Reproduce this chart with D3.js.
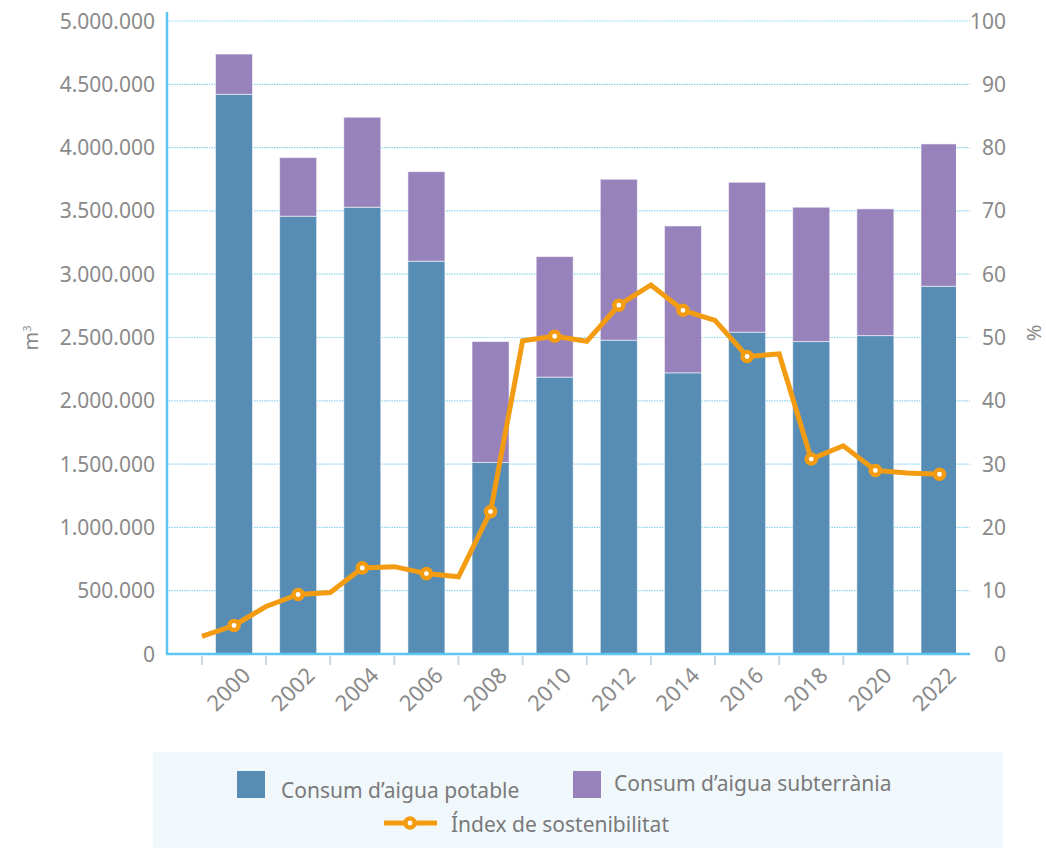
<!DOCTYPE html>
<html>
<head>
<meta charset="utf-8">
<script src="https://cdnjs.cloudflare.com/ajax/libs/d3/7.8.5/d3.min.js"></script>
<style>
  body { margin: 0; background: #fff; }
  svg text { font-family: "Noto Sans", "DejaVu Sans", sans-serif; }
</style>
</head>
<body>
<div id="chart"></div>
<script>
// data
var barYears = [2000, 2002, 2004, 2006, 2008, 2010, 2012, 2014, 2016, 2018, 2020, 2022];
var potable = [4421000, 3458000, 3529000, 3103000, 1513000, 2187000, 2479000, 2221000, 2542000, 2468000, 2515000, 2905000];
var subterrania = [318000, 463000, 711000, 707000, 955000, 952000, 1271000, 1160000, 1184000, 1061000, 1001000, 1124000];
var indexYears = [1999, 2000, 2001, 2002, 2003, 2004, 2005, 2006, 2007, 2008, 2009, 2010,
                  2011, 2012, 2013, 2014, 2015, 2016, 2017, 2018, 2019, 2020, 2021, 2022];
var indexValues = [2.8, 4.5, 7.5, 9.4, 9.7, 13.6, 13.8, 12.7, 12.2, 22.5, 49.5, 50.2,
                   49.4, 55.1, 58.3, 54.3, 52.7, 47.0, 47.4, 30.8, 32.9, 29.0, 28.6, 28.4];
var leftTicks = [0, 500000, 1000000, 1500000, 2000000, 2500000, 3000000, 3500000, 4000000, 4500000, 5000000];
var rightTicks = [0, 10, 20, 30, 40, 50, 60, 70, 80, 90, 100];
var tickYears = [1999, 2001, 2003, 2005, 2007, 2009, 2011, 2013, 2015, 2017, 2019, 2021];
var seriesNames = ["Consum d\u2019aigua potable", "Consum d\u2019aigua subterr\u00e0nia", "\u00cdndex de sostenibilitat"];

var W = 1046, H = 848;
var marg = { top: 21, left: 167, right: 90, bot: 194 };
var plotW = W - marg.left - marg.right;   // right edge at 956
var plotH = H - marg.top - marg.bot;

var BLUE = "#578db5", PURPLE = "#9782bc", ORANGE = "#f39c12", AXIS = "#5cc6f0", GREY = "#8a8a8a";

var svg = d3.select("#chart").append("svg")
  .attr("width", W)
  .attr("height", H);

var g = svg.append("g").attr("transform", "translate(" + marg.left + "," + marg.top + ")");

var xScale = d3.scaleLinear().domain([2000, 2022]).range([67, 772.5]);
var yLeft = d3.scaleLinear().domain([0, 5000000]).range([plotH, 0]);
var yRight = d3.scaleLinear().domain([0, 100]).range([plotH, 0]);
var barW = 37;

// dotted gridlines
g.append("g").selectAll("line")
  .data(leftTicks.slice(1))
  .enter().append("line")
  .attr("x1", 2).attr("x2", plotW + 14)
  .attr("y1", function(d) { return yLeft(d); })
  .attr("y2", function(d) { return yLeft(d); })
  .attr("stroke", "#8fd5f2")
  .attr("stroke-width", 1.2)
  .attr("stroke-dasharray", "1.5,1");

// bars, clipped at the right edge like the original
svg.append("defs").append("clipPath").attr("id", "plotclip")
  .append("rect").attr("x", 0).attr("y", -20).attr("width", plotW).attr("height", plotH + 20);

var stackData = barYears.map(function(yr, i) {
  return { year: yr, pot: potable[i], sub: subterrania[i] };
});

var bars = g.append("g").attr("clip-path", "url(#plotclip)");
bars.selectAll(".pot")
  .data(stackData)
  .enter().append("rect")
  .attr("class", "pot")
  .attr("x", function(d) { return xScale(d.year) - barW / 2; })
  .attr("y", function(d) { return yLeft(d.pot); })
  .attr("width", barW)
  .attr("height", function(d) { return plotH - yLeft(d.pot); })
  .attr("fill", BLUE)
  .attr("stroke", "rgba(255,255,255,0.55)")
  .attr("stroke-width", 1);

bars.selectAll(".sub")
  .data(stackData)
  .enter().append("rect")
  .attr("class", "sub")
  .attr("x", function(d) { return xScale(d.year) - barW / 2; })
  .attr("y", function(d) { return yLeft(d.pot + d.sub); })
  .attr("width", barW)
  .attr("height", function(d) { return yLeft(d.pot) - yLeft(d.pot + d.sub); })
  .attr("fill", PURPLE)
  .attr("stroke", "rgba(255,255,255,0.55)")
  .attr("stroke-width", 1);

// axes lines
g.append("line").attr("x1", 0).attr("x2", 0).attr("y1", -9).attr("y2", plotH)
  .attr("stroke", AXIS).attr("stroke-width", 2.5);
g.append("line").attr("x1", -1).attr("x2", plotW + 14).attr("y1", plotH).attr("y2", plotH)
  .attr("stroke", AXIS).attr("stroke-width", 2.5);

// x ticks between bars
g.append("g").selectAll("line")
  .data(tickYears)
  .enter().append("line")
  .attr("x1", function(d) { return xScale(d); })
  .attr("x2", function(d) { return xScale(d); })
  .attr("y1", plotH + 2).attr("y2", plotH + 11)
  .attr("stroke", "#c9d8e2").attr("stroke-width", 2);

// x labels, rotated
g.append("g").selectAll("text")
  .data(barYears)
  .enter().append("text")
  .attr("transform", function(d) { return "translate(" + (xScale(d) + 7) + "," + (plotH + 12) + ") rotate(-45)"; })
  .attr("text-anchor", "end")
  .attr("dy", "0.7em")
  .attr("fill", GREY)
  .style("font-size", "22px")
  .text(function(d) { return d; });

// left tick labels
var fmtDots = function(v) { return d3.format(",")(v).replace(/,/g, "."); };
g.append("g").selectAll("text")
  .data(leftTicks)
  .enter().append("text")
  .attr("x", -12)
  .attr("y", function(d) { return yLeft(d); })
  .attr("dy", "0.36em")
  .attr("text-anchor", "end")
  .attr("fill", GREY)
  .style("font-size", "21px")
  .text(fmtDots);

// right tick labels
g.append("g").selectAll("text")
  .data(rightTicks)
  .enter().append("text")
  .attr("x", plotW + 50)
  .attr("y", function(d) { return yRight(d); })
  .attr("dy", "0.36em")
  .attr("text-anchor", "end")
  .attr("fill", GREY)
  .style("font-size", "21px")
  .text(function(d) { return d; });

// axis titles
var mLab = svg.append("text")
  .attr("transform", "translate(38,338) rotate(-90)")
  .attr("text-anchor", "middle")
  .attr("fill", GREY)
  .style("font-size", "20px");
mLab.append("tspan").text("m");
mLab.append("tspan").attr("dy", "-0.6em").style("font-size", "11px").text("3");

svg.append("text")
  .attr("transform", "translate(1034,333) rotate(-90)")
  .attr("text-anchor", "middle")
  .attr("dy", "0.35em")
  .attr("fill", GREY)
  .style("font-size", "20px")
  .text("%");

// sustainability index line
var lineData = indexYears.map(function(yr, i) { return { year: yr, v: indexValues[i] }; });
var line = d3.line()
  .x(function(d) { return xScale(d.year); })
  .y(function(d) { return yRight(d.v); });

g.append("path")
  .datum(lineData)
  .attr("d", line)
  .attr("fill", "none")
  .attr("stroke", ORANGE)
  .attr("stroke-width", 5);

g.append("g").selectAll("circle")
  .data(lineData.filter(function(d) { return d.year % 2 == 0; }))
  .enter().append("circle")
  .attr("cx", function(d) { return xScale(d.year); })
  .attr("cy", function(d) { return yRight(d.v); })
  .attr("r", 4.6)
  .attr("fill", "#fff")
  .attr("stroke", ORANGE)
  .attr("stroke-width", 4.4);

// legend
var leg = svg.append("g");
leg.append("rect")
  .attr("x", 153).attr("y", 752).attr("width", 850).attr("height", 100)
  .attr("fill", "#f1f8fc");

leg.append("rect").attr("x", 237).attr("y", 771).attr("width", 28).attr("height", 27).attr("fill", BLUE);
leg.append("text").attr("x", 281).attr("y", 798).attr("fill", "#7a7a7a")
  .style("font-size", "21px").text(seriesNames[0]);

leg.append("rect").attr("x", 573).attr("y", 771).attr("width", 28).attr("height", 27).attr("fill", PURPLE);
leg.append("text").attr("x", 614).attr("y", 791).attr("fill", "#7a7a7a")
  .style("font-size", "21px").text(seriesNames[1]);

leg.append("line").attr("x1", 384).attr("x2", 437).attr("y1", 823).attr("y2", 823)
  .attr("stroke", ORANGE).attr("stroke-width", 5);
leg.append("circle").attr("cx", 410).attr("cy", 823).attr("r", 4.6)
  .attr("fill", "#fff").attr("stroke", ORANGE).attr("stroke-width", 4.4);
leg.append("text").attr("x", 451).attr("y", 832).attr("fill", "#7a7a7a")
  .style("font-size", "21px").text(seriesNames[2]);
</script>
</body>
</html>
